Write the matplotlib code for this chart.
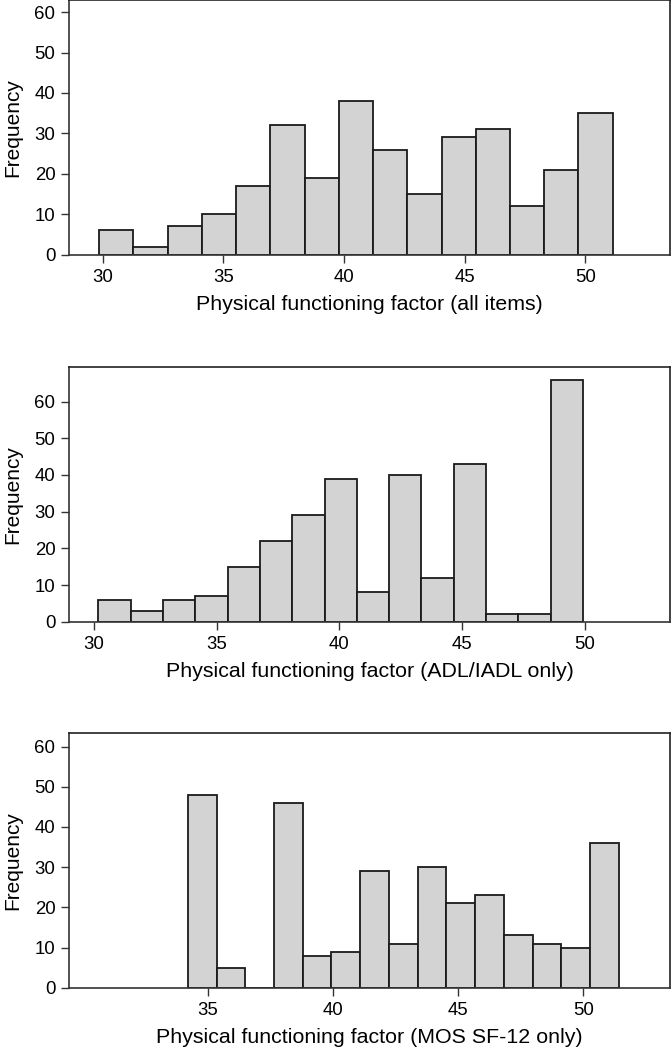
import numpy as np
import matplotlib
matplotlib.use('Agg')
import matplotlib.pyplot as plt

plt.rcParams['font.family'] = ['Liberation Sans', 'DejaVu Sans']

# counts per bin
counts_all = [6, 2, 7, 10, 17, 32, 19, 38, 26, 15, 29, 31, 12, 21, 35]
counts_adl = [6, 3, 6, 7, 15, 22, 29, 39, 8, 40, 12, 43, 2, 2, 66]
counts_mos = [48, 5, 0, 46, 8, 9, 29, 11, 30, 21, 23, 13, 11, 10, 36]

# bin layout (first edge, last edge)
bins_all = (29.86, 51.13)
bins_adl = (30.18, 49.93)
bins_mos = (34.21, 51.42)

labels = ['Physical functioning factor (all items)',
          'Physical functioning factor (ADL/IADL only)',
          'Physical functioning factor (MOS SF-12 only)']
xticks = [[30, 35, 40, 45, 50], [30, 35, 40, 45, 50], [35, 40, 45, 50]]
yticks = [0, 10, 20, 30, 40, 50, 60]

fig = plt.figure(figsize=(6.71, 10.5), dpi=100)
boxes = [[0.1033, 0.7574, 0.8947, 0.2426],
         [0.1033, 0.4079, 0.8947, 0.2429],
         [0.1033, 0.0593, 0.8947, 0.2423]]
xlims = [(28.62, 53.49), (28.99, 53.47), (29.48, 53.45)]
ylims = [63.0, 69.5, 63.3]

data = [(counts_all, bins_all), (counts_adl, bins_adl), (counts_mos, bins_mos)]

for i, (cnt, (lo, hi)) in enumerate(data):
    ax = fig.add_axes(boxes[i])
    edges = np.linspace(lo, hi, len(cnt) + 1)
    ax.hist(edges[:-1] + 1e-6, bins=edges, weights=cnt,
            color='#d3d3d3', edgecolor='#1a1a1a', linewidth=1.3)
    ax.set_xlim(*xlims[i])
    ax.set_ylim(0, ylims[i])
    ax.set_xticks(xticks[i])
    ax.set_yticks(yticks)
    ax.tick_params(direction='out', length=6, width=1, labelsize=13.4,
                   color='#333333', pad=4)
    for s in ['left', 'bottom']:
        ax.spines[s].set_color('#333333')
        ax.spines[s].set_linewidth(1.2)
    for s in ['top', 'right']:
        ax.spines[s].set_color('#222222')
        ax.spines[s].set_linewidth(1.2)
    ax.set_xlabel(labels[i], fontsize=15.4, labelpad=7)
    ax.set_ylabel('Frequency', fontsize=15.0)
    ax.yaxis.set_label_coords(-0.078, 0.5)

fig.savefig('out.png', dpi=100)
